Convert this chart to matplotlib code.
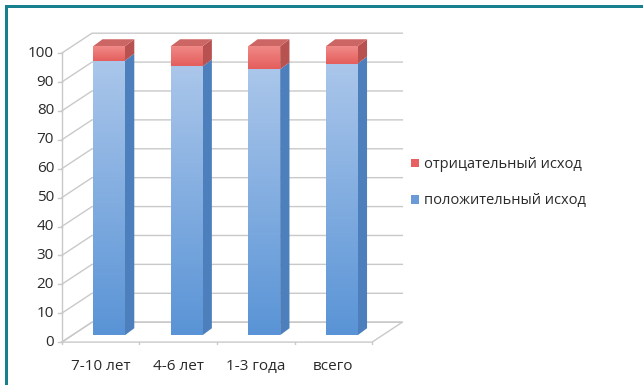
'''Stacked 3D-looking bar chart: outcome by follow-up period'''
import numpy as np
import matplotlib
matplotlib.use('Agg')
import matplotlib.pyplot as plt
from matplotlib.patches import Polygon, Rectangle, Patch
from matplotlib.colors import LinearSegmentedColormap

plt.rcParams['font.family'] = ['Open Sans', 'DejaVu Sans']

CATEGORIES = ['7-10 лет', '4-6 лет', '1-3 года', 'всего']
POSITIVE = [95, 93, 92, 94]
NEGATIVE = [5, 7, 8, 6]
LABELS = ['отрицательный исход', 'положительный исход']
YTICKS = list(range(0, 101, 10))

# fake perspective, in data units
DEPTH_X = 0.39
DEPTH_Y = 6.9
BAR_W = 0.41
BAR_SHIFT_X = 0.11
BAR_SHIFT_Y = 2.4
BAR_DX = 0.12
BAR_DY = 2.4

GRID = '#c9c9c9'
TXT = '#2a2a2a'


def gradient_fill(ax, patch, c_top, c_bottom):
	cmap = LinearSegmentedColormap.from_list('g', [c_bottom, c_top])
	x0, y0 = patch.get_x(), patch.get_y()
	w, h = patch.get_width(), patch.get_height()
	grad = np.linspace(0, 1, 100).reshape(-1, 1)
	im = ax.imshow(grad, cmap=cmap, origin='lower', aspect='auto',
				   extent=(x0, x0 + w, y0, y0 + h), zorder=3, interpolation='bicubic')
	im.set_clip_path(patch)
	patch.set_facecolor('none')


def side_face(ax, x, y0, y1, color):
	pts = [(x, y0), (x + BAR_DX, y0 + BAR_DY), (x + BAR_DX, y1 + BAR_DY), (x, y1)]
	ax.add_patch(Polygon(pts, closed=True, facecolor=color, edgecolor='none', zorder=3))


def top_face(ax, x0, x1, y, color):
	pts = [(x0, y), (x1, y), (x1 + BAR_DX, y + BAR_DY), (x0 + BAR_DX, y + BAR_DY)]
	ax.add_patch(Polygon(pts, closed=True, facecolor=color, edgecolor='none', zorder=3))


def draw_walls(ax, n):
	left = -0.5
	right = n - 0.5
	# floor
	floor = [(left, 0), (right, 0), (right + DEPTH_X, DEPTH_Y), (left + DEPTH_X, DEPTH_Y)]
	ax.add_patch(Polygon(floor, closed=True, facecolor='none', edgecolor=GRID, lw=1, zorder=1))
	for v in YTICKS:
		ax.plot([left, left + DEPTH_X, right + DEPTH_X], [v, v + DEPTH_Y, v + DEPTH_Y],
				color=GRID, lw=1, zorder=1)
	ax.plot([left, left], [0, 100], color=GRID, lw=1, zorder=1)
	# ticks on the front edge
	for i in range(n + 1):
		ax.plot([left + i, left + i], [0, -1.5], color=GRID, lw=1, zorder=1)
	for v in YTICKS:
		ax.plot([left - 0.05, left], [v, v], color=GRID, lw=1, zorder=1)


def make_picture(categories, positive, negative):
	fig = plt.figure(figsize=(6.43, 3.85), dpi=100)
	ax = fig.add_axes([54 / 643, 40 / 385, 353 / 643, 315 / 385])
	n = len(categories)
	draw_walls(ax, n)

	xs = np.arange(n) + BAR_SHIFT_X
	blue = ax.bar(xs, positive, BAR_W, bottom=BAR_SHIFT_Y, zorder=3, linewidth=0)
	red = ax.bar(xs, negative, BAR_W, bottom=np.array(positive) + BAR_SHIFT_Y, zorder=3, linewidth=0)

	for b in blue:
		x1 = b.get_x() + b.get_width()
		side_face(ax, x1, b.get_y(), b.get_y() + b.get_height(), '#4d7fbd')
		gradient_fill(ax, b, '#aac6ea', '#5a94d6')
	for r in red:
		x0 = r.get_x()
		x1 = x0 + r.get_width()
		ytop = r.get_y() + r.get_height()
		side_face(ax, x1, r.get_y(), ytop, '#b85250')
		top_face(ax, x0, x1, ytop, '#cc6664')
		gradient_fill(ax, r, '#f08a88', '#e45e5c')

	for i, cat in enumerate(categories):
		ax.text(i, -6.0, cat, ha='center', va='top', fontsize=11, color=TXT)
	for v in YTICKS:
		ax.text(-0.6, v, str(v), ha='right', va='center', fontsize=11, color=TXT)

	ax.set_xlim(-0.6, n - 0.05)
	ax.set_ylim(-1, 108)
	ax.axis('off')

	handles = [Patch(facecolor='#e96060', edgecolor='none'),
			   Patch(facecolor='#6a9ad8', edgecolor='none')]
	fig.legend(handles, LABELS, loc='upper left', bbox_to_anchor=(398 / 643, 1 - 144 / 385),
			   frameon=False, fontsize=10.5, handlelength=0.55, handleheight=0.55,
			   handletextpad=0.3, labelspacing=1.45, labelcolor=TXT)

	# teal frame on the top and left edge
	fig.add_artist(Rectangle((5 / 643, 0), 3 / 643, 380 / 385, transform=fig.transFigure,
							 facecolor='#17808f', edgecolor='none'))
	fig.add_artist(Rectangle((5 / 643, 1 - 8 / 385), 638 / 643, 3 / 385, transform=fig.transFigure,
							 facecolor='#17808f', edgecolor='none'))

	plt.savefig('out.png', dpi=100)
	plt.close()


def main():
	make_picture(CATEGORIES, POSITIVE, NEGATIVE)


if __name__ == '__main__':
	main()
